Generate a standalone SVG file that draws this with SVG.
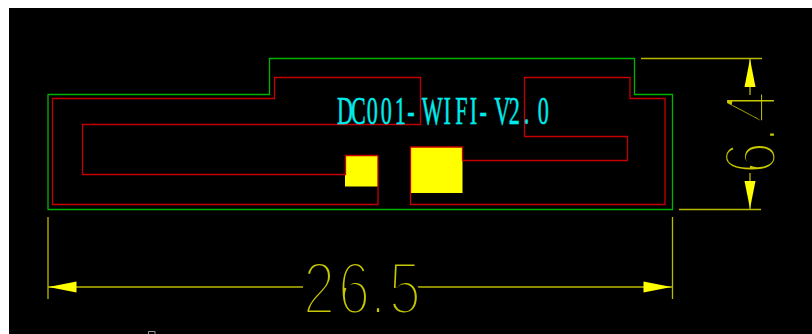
<svg xmlns="http://www.w3.org/2000/svg" width="812" height="334" viewBox="0 0 812 334">
<style>
.g{fill:none;stroke:#00b400;stroke-width:1.3}
.r{fill:none;stroke:#c40000;stroke-width:1.3}
.y{fill:none;stroke:#b8b800;stroke-width:1.3}
.a{fill:#ffff00;stroke:none}
.pad{fill:#ffff00;stroke:none}
.dim{font-family:"Liberation Sans",Arial,sans-serif;font-size:74px;fill:#c8c800;stroke:#000000;stroke-width:4.2px}
.lab{font-family:"Liberation Serif","Times New Roman",serif;font-size:41px;fill:#00ecec;stroke:#00ecec;stroke-width:.5px}
</style>
<rect x="0" y="0" width="812" height="334" fill="#ffffff"/>
<rect x="9" y="8" width="803" height="326" fill="#000000"/>
<path d="M148.500 334V331.500H155V334" fill="none" stroke="#9a9a9a" stroke-width="1"/>
<g id="outline"><path class="g" d="M48 94.500H269.500V58.500H634.500V94.500H672.500V209.500H48Z"/></g>
<g id="pad-left"><rect class="pad" x="345" y="155.500" width="33" height="31"/></g>
<g id="pad-right"><rect class="pad" x="410" y="147" width="52.500" height="46"/></g>
<g id="antenna">
<path class="r" d="M378 155.500V204.500H52.500V98.500H274.500V77.500H420.500V124.500H82.500V174.500H345.500V155.500H378"/>
<path class="r" d="M410.500 193V147H462.500V160.500M410.500 193V204.500H665V98.500H630V77.500H524.500V136.500H627.500V160.500H462.500"/>
</g>
<g id="label"><text class="lab" transform="translate(337 124) scale(.54 1)" x="0 26 55 81 107 130 157 197 219 246 264 291 318 346 372">DC001-WIFI-V2.0</text></g>
<g id="connectors">
<path class="y" d="M48 217V299M672.500 217V299M48 287H303M417 287H672.500M641 58.500H762M679 209.500H761M750 58.500V95M750 173V209"/>
<path class="a" d="M48.500 287L76.500 281.500V292.500Z"/>
<path class="a" d="M671.500 287L643.500 281.500V292.500Z"/>
<path class="a" d="M750 59L744.500 87H755.500Z"/>
<path class="a" d="M750 208.500L744.500 181H755.500Z"/>
</g>
<g id="dim-h"><text class="dim" transform="translate(303 313.500) scale(.78 1)" x="0 45 86 110">26.5</text></g>
<g id="dim-v"><text class="dim" transform="translate(776 174) rotate(-90) scale(.78 1)" x="0 40 65">6.4</text></g>
</svg>
